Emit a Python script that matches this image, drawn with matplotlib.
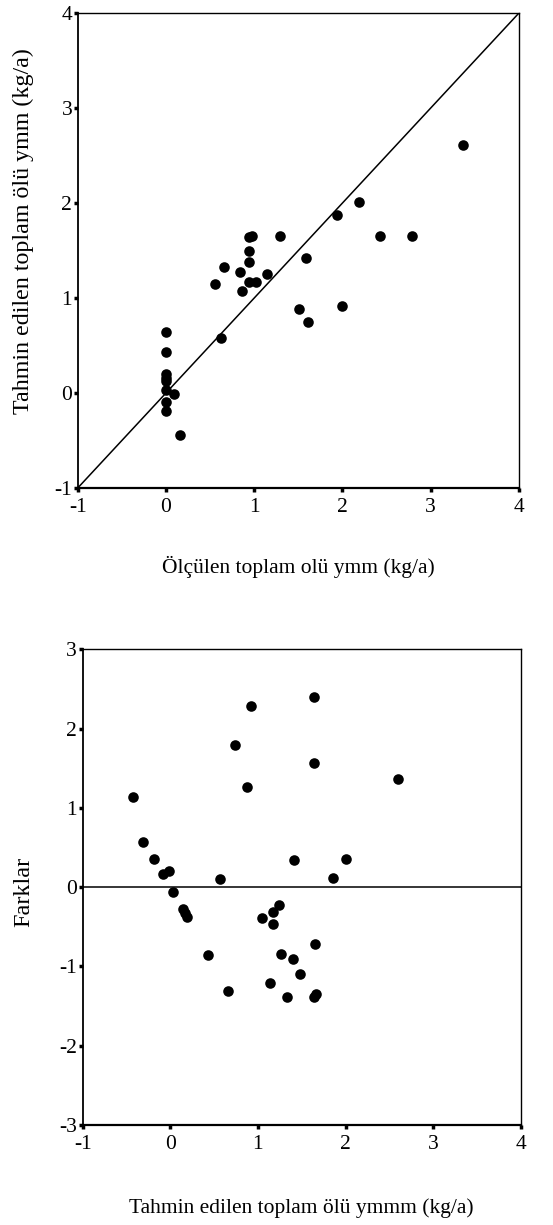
import matplotlib
matplotlib.use("Agg")
import matplotlib.pyplot as plt

plt.rcParams['font.family'] = ['Liberation Serif', 'DejaVu Serif']
plt.rcParams['axes.unicode_minus'] = False

# Top panel: measured vs predicted
measured = [3.37, 2.19, 1.94, 2.43, 2.79, 1.59, 1.29, 0.94, 0.98, 0.94, 0.94, 0.66,
            0.84, 1.15, 0.56, 0.94, 1.02, 0.86, 1.51, 1.61, 2.00, 0.00, 0.00, 0.00,
            0.00, 0.00, 0.00, 0.00, 0.00, 0.09, 0.16, 0.62]
predicted = [2.61, 2.01, 1.87, 1.65, 1.65, 1.42, 1.65, 1.64, 1.65, 1.49, 1.38, 1.33,
             1.27, 1.25, 1.15, 1.165, 1.165, 1.07, 0.88, 0.75, 0.92, 0.645, 0.43, 0.20,
             0.155, 0.13, 0.03, -0.09, -0.19, -0.01, -0.44, 0.58]

# Bottom panel: predicted vs differences
pred2 = [-0.43, -0.31, -0.19, -0.08, -0.015, 0.03, 0.14, 0.17, 0.19, 0.57, 0.74, 0.92,
         0.88, 1.64, 1.64, 2.60, 1.41, 2.00, 1.86, 1.05, 1.17, 1.24, 1.17, 0.43,
         0.66, 1.14, 1.26, 1.40, 1.48, 1.65, 1.33, 1.64, 1.66]
diffs = [1.14, 0.57, 0.36, 0.16, 0.20, -0.06, -0.28, -0.33, -0.38, 0.10, 1.79, 2.28,
         1.26, 2.40, 1.56, 1.365, 0.34, 0.36, 0.12, -0.39, -0.31, -0.23, -0.47, -0.86,
         -1.31, -1.21, -0.84, -0.90, -1.09, -0.72, -1.39, -1.39, -1.35]

ticks_x = [-1, 0, 1, 2, 3, 4]
ticks_y_top = [-1, 0, 1, 2, 3, 4]
ticks_y_bot = [-3, -2, -1, 0, 1, 2, 3]

fig = plt.figure(figsize=(5.53, 12.25), dpi=100)

ax1 = fig.add_axes([0.1405, 0.6016, 0.798, 0.3878])
ax1.scatter(measured, predicted, s=58, color='black', zorder=3, linewidths=0)
ax1.plot([-1, 4], [-1, 4], color='black', lw=1.1)
ax1.set_xlim(-1, 4)
ax1.set_ylim(-1, 4)
ax1.set_xticks(ticks_x)
ax1.set_yticks(ticks_y_top)
ax1.set_xlabel('Ölçülen toplam olü ymm (kg/a)', fontsize=15.5, va='center')
ax1.set_ylabel('Tahmin edilen toplam ölü ymm (kg/a)', fontsize=17.3, va='center')
ax1.xaxis.set_label_coords(0.5, -0.166)
ax1.yaxis.set_label_coords(-0.122, 0.541)

ax2 = fig.add_axes([0.1495, 0.0816, 0.7925, 0.3884])
ax2.scatter(pred2, diffs, s=58, color='black', zorder=3, linewidths=0)
ax2.axhline(0, color='black', lw=1.1)
ax2.set_xlim(-1, 4)
ax2.set_ylim(-3, 3)
ax2.set_xticks(ticks_x)
ax2.set_yticks(ticks_y_bot)
ax2.set_xlabel('Tahmin edilen toplam ölü ymmm (kg/a)', fontsize=15.5, va='center')
ax2.set_ylabel('Farklar', fontsize=17.5, va='center')
ax2.xaxis.set_label_coords(0.5, -0.174)
ax2.yaxis.set_label_coords(-0.135, 0.49)

for ax in (ax1, ax2):
    for sp in ax.spines.values():
        sp.set_linewidth(1.0)
        sp.set_color('black')
    ax.spines['bottom'].set_linewidth(1.6)
    ax.spines['left'].set_linewidth(1.3)
    ax.tick_params(axis='both', direction='out', length=3, width=2.5,
                   labelsize=15.5, colors='black')
    ax.tick_params(axis='x', pad=4)
    ax.tick_params(axis='y', pad=1)

fig.savefig('out.png', dpi=100)
